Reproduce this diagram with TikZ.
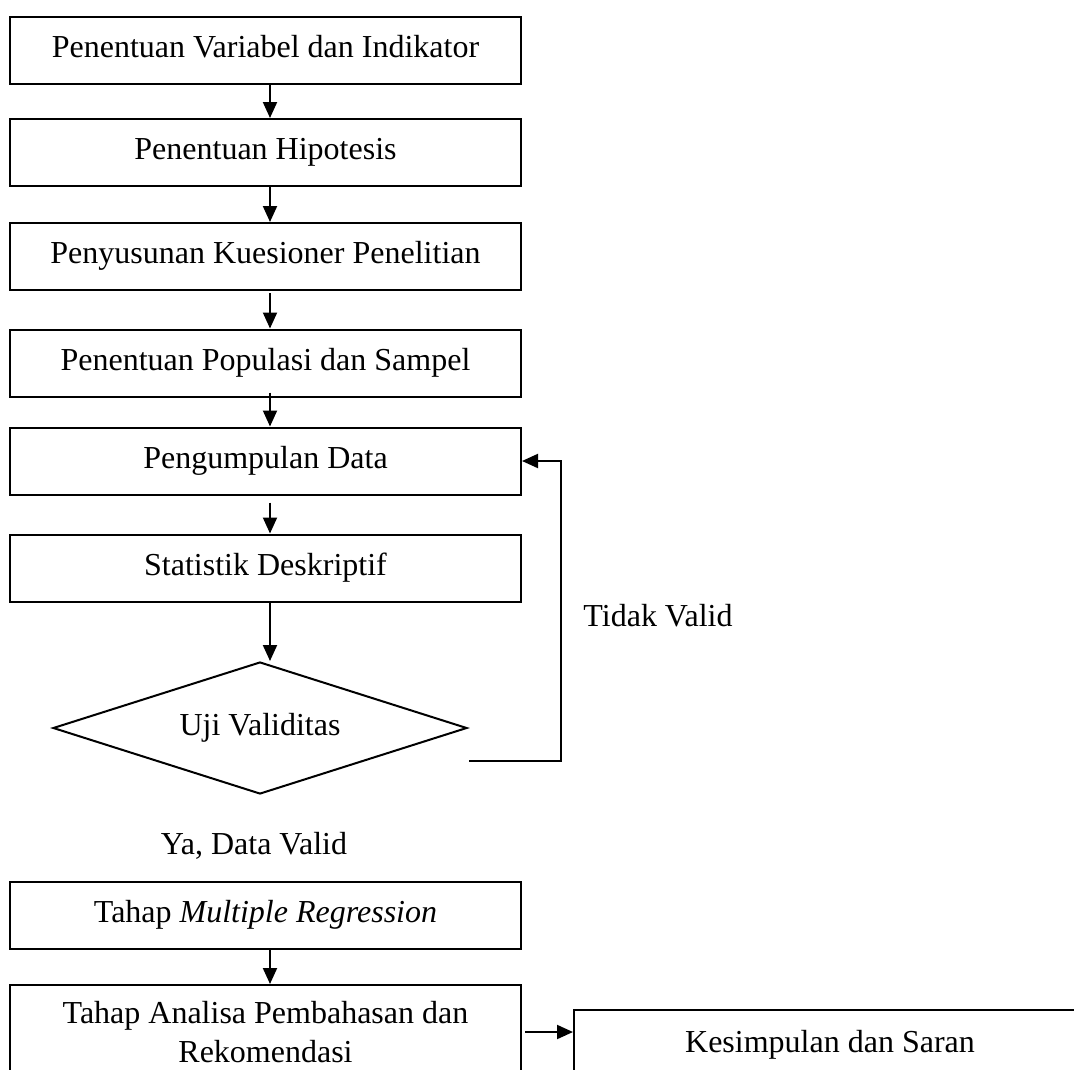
\documentclass[tikz,border=0pt]{standalone}
\usepackage{fontspec}
\setmainfont{Liberation Serif}
\usetikzlibrary{shapes.geometric,arrows.meta}
\begin{document}
\begin{tikzpicture}[x=1pt,y=-1pt,
  every node/.style={font=\fontsize{32}{42}\selectfont},
  box/.style={draw,line width=2pt,minimum width=511pt,minimum height=67pt,inner sep=0pt,text height=21.5pt,text depth=6.8pt},
  dec/.style={draw,diamond,line width=2pt,minimum width=414pt,minimum height=132pt,aspect=3.14,inner sep=0pt,text height=21.5pt,text depth=6.8pt},
  lbl/.style={inner sep=0pt,anchor=base},
  arr/.style={line width=2pt,-{Triangle[length=16pt,width=14pt]}},
  ln/.style={line width=2pt}]
\path[use as bounding box] (0,0) rectangle (1074,1069);
\clip (0,0) rectangle (1074,1069);
\node[box] (b1) at (265.5,50.5) {Penentuan Variabel dan Indikator};
\node[box] (b2) at (265.5,152.5) {Penentuan Hipotesis};
\node[box] (b3) at (265.5,256.5) {Penyusunan Kuesioner Penelitian};
\node[box] (b4) at (265.5,363) {Penentuan Populasi dan Sampel};
\node[box] (b5) at (265.5,461) {Pengumpulan Data};
\node[box] (b6) at (265.5,568) {Statistik Deskriptif};
\node[dec] (d) at (260,728) {Uji Validitas};
\node[lbl] (tv) at (658,626) {Tidak Valid};
\node[lbl] (ya) at (254,854) {Ya, Data Valid};
\node[box] (mr) at (265.5,915.5) {Tahap \textit{Multiple Regression}};
\node[draw,line width=2pt,minimum width=511pt,inner xsep=0pt,inner ysep=16pt,align=center,anchor=north,font=\fontsize{32}{39.5}\selectfont] (an) at (265.5,984) {Tahap Analisa Pembahasan dan\\Rekomendasi};
\node[draw,line width=2pt,minimum width=512pt,inner xsep=0pt,inner ysep=20.5pt,text height=21.5pt,text depth=6.8pt,anchor=north west] (ks) at (573,1009) {Kesimpulan dan Saran};
\draw[arr] ([xshift=4.5pt]b1.south) -- ([xshift=4.5pt]b2.north);
\draw[arr] ([xshift=4.5pt]b2.south) -- ([xshift=4.5pt]b3.north);
\draw[arr] ([xshift=4.5pt,yshift=-2pt]b3.south) -- ([xshift=4.5pt]b4.north);
\draw[arr] ([xshift=4.5pt,yshift=5pt]b4.south) -- ([xshift=4.5pt]b5.north);
\draw[arr] ([xshift=4.5pt,yshift=-7pt]b5.south) -- ([xshift=4.5pt]b6.north);
\draw[arr] ([xshift=4.5pt]b6.south) -- ([xshift=4.5pt]b6.south |- d.north);
\coordinate (ls) at (469,761);
\coordinate (lc) at (561,761);
\draw[arr] (ls) -- (lc) |- (b5.east);
\draw[arr] ([xshift=4.5pt]mr.south) -- ([xshift=4.5pt]mr.south |- an.north);
\draw[arr] ([xshift=3pt]an.east |- ks.north) ++(0,23) -- ([yshift=-23pt]ks.north west);
\end{tikzpicture}
\end{document}
